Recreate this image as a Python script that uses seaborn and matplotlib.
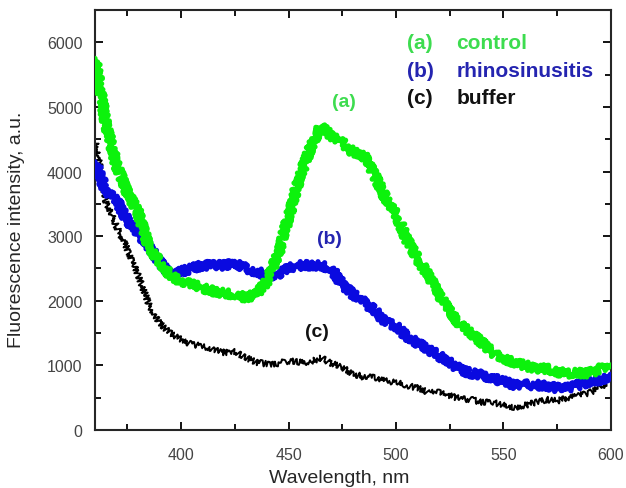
import numpy as np
import pandas as pd
import matplotlib
matplotlib.use("Agg")
import matplotlib.pyplot as plt
import seaborn as sns
from matplotlib.ticker import MultipleLocator

# Wavelength grid (nm), values every 5 nm
wavelength = list(range(360, 601, 5))

control = [5750, 4750, 4100, 3680, 3370, 2850, 2600, 2400, 2300, 2250,
           2200, 2150, 2120, 2100, 2050, 2100, 2300, 2700, 3300, 3900,
           4350, 4700, 4550, 4450, 4300, 4250, 3950, 3600, 3350, 2950,
           2650, 2400, 2100, 1850, 1620, 1500, 1350, 1200, 1100, 1050,
           1000, 950, 950, 900, 880, 880, 880, 950, 950]

rhinosinusitis = [4150, 3700, 3550, 3250, 3050, 2850, 2600, 2400, 2450, 2500,
                  2550, 2550, 2550, 2600, 2500, 2450, 2400, 2400, 2500, 2550,
                  2550, 2550, 2500, 2250, 2100, 1980, 1850, 1680, 1600, 1450,
                  1350, 1250, 1150, 1050, 930, 880, 850, 800, 750, 700,
                  700, 700, 680, 650, 650, 700, 750, 780, 830]

buffer = [4500, 3550, 3150, 2800, 2400, 1950, 1650, 1500, 1400, 1320,
          1300, 1250, 1200, 1220, 1120, 1050, 1020, 1030, 1070, 1050,
          1050, 1120, 1030, 970, 870, 820, 820, 760, 740, 690,
          650, 580, 580, 530, 480, 470, 430, 430, 380, 350,
          380, 430, 470, 450, 500, 530, 580, 650, 800]

labels = ["control", "rhinosinusitis", "buffer"]
tags = ["(a)", "(b)", "(c)"]
colors = ["#0cf20c", "#0a0ae0", "#000000"]
text_colors = ["#3ddc4f", "#2424b0", "#111111"]

df = pd.DataFrame({"wavelength": wavelength * 3,
                   "intensity": control + rhinosinusitis + buffer,
                   "sample": [s for s in labels for _ in wavelength]})

sns.set_style("ticks")
plt.rcParams["font.family"] = ["Liberation Sans", "DejaVu Sans"]

fig = plt.figure(figsize=(6.26, 4.89), dpi=100)
ax = fig.add_axes([0.1518, 0.1186, 0.8242, 0.8589])

sns.lineplot(data=df, x="wavelength", y="intensity", hue="sample",
             palette=dict(zip(labels, colors)), legend=False, ax=ax,
             sort=False)

# noisy-looking traces: dense sketch zigzag forms a jagged band
lines = ax.get_lines()
for line, lw, z in zip(lines, [3.8, 3.8, 1.4], [4, 3, 2]):
    line.set_linewidth(lw)
    line.set_zorder(z)
    if lw > 2:
        line.set_sketch_params(scale=4, length=2, randomness=3)
    else:
        line.set_sketch_params(scale=3, length=2.5, randomness=3)

ax.set_xlim(360, 600)
ax.set_ylim(0, 6500)
ax.xaxis.set_major_locator(MultipleLocator(50))
ax.xaxis.set_minor_locator(MultipleLocator(25))
ax.yaxis.set_major_locator(MultipleLocator(1000))
ax.yaxis.set_minor_locator(MultipleLocator(500))
ax.tick_params(which="both", direction="in", top=True, right=True,
               width=1.3, colors="black", labelcolor="#444444", labelsize=11.5)
ax.tick_params(which="major", length=6)
ax.tick_params(which="minor", length=4)
ax.tick_params(axis="x", pad=12)
ax.tick_params(axis="y", pad=9)
for sp in ax.spines.values():
    sp.set_visible(True)
    sp.set_linewidth(1.5)

ax.set_xlabel("Wavelength, nm", fontsize=14)
ax.set_ylabel("Fluorescence intensity, a.u.", fontsize=14)
ax.xaxis.set_label_coords(0.473, -0.093)
ax.yaxis.set_label_coords(-0.135, 0.48)

# legend-style text block
for i, (tag, name, c) in enumerate(zip(tags, labels, text_colors)):
    y = 6000 - i * 430
    ax.text(505, y, tag, color=c, fontsize=15, fontweight="bold", va="center")
    ax.text(528, y, name, color=c, fontsize=15, fontweight="bold", va="center")

# curve tags
ax.text(476, 5080, "(a)", color=text_colors[0], fontsize=14, fontweight="bold", ha="center", va="center")
ax.text(469, 2960, "(b)", color=text_colors[1], fontsize=14, fontweight="bold", ha="center", va="center")
ax.text(463, 1520, "(c)", color=text_colors[2], fontsize=14, fontweight="bold", ha="center", va="center")

fig.savefig("out.png", dpi=100)
